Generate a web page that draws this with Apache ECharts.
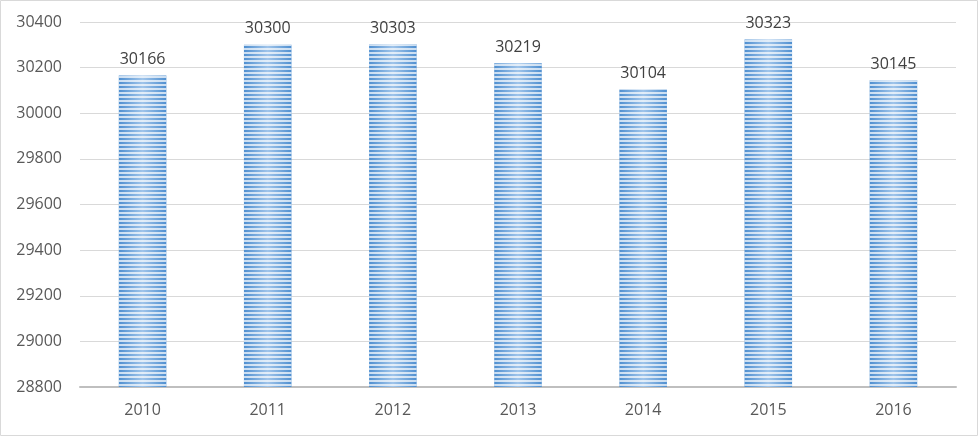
<!DOCTYPE html>
<html><head><meta charset="utf-8">
<script src="https://cdn.jsdelivr.net/npm/echarts@6/dist/echarts.min.js"></script>
<style>html,body{margin:0;padding:0;background:#fff}#c{width:979px;height:437px}</style>
</head><body><div id="c"></div>
<script>
var years = ['2010','2011','2012','2013','2014','2015','2016'];
var values = [30166, 30300, 30303, 30219, 30104, 30323, 30145];
var yMin = 28800, yMax = 30400, yStep = 200;

var chart = echarts.init(document.getElementById('c'));
var font = '"Open Sans", sans-serif';
chart.setOption({
  animation: false,
  graphic: [{type:'rect', shape:{x:0.5,y:0.5,width:977,height:435}, style:{fill:'none', stroke:'#d9d9d9', lineWidth:1}}],
  grid: {left: 80, right: 23, top: 22, bottom: 50},
  xAxis: {
    type: 'category', data: years,
    axisLine: {lineStyle:{color:'#bfbfbf', width:2}},
    axisTick: {show:false},
    axisLabel: {color:'#595959', fontSize:16, fontFamily:font, margin:15}
  },
  yAxis: {
    type: 'value', min: yMin, max: yMax, interval: yStep,
    axisLine: {show:false}, axisTick:{show:false},
    splitLine: {lineStyle:{color:'#d9d9d9', width:1}},
    axisLabel: {color:'#595959', fontSize:16, fontFamily:font, margin:18, formatter: function(v){return String(v);}}
  },
  series: [{
    type: 'bar', data: values, barWidth: '38%',
    itemStyle: {
      color: new echarts.graphic.LinearGradient(0,0,1,0,[
        {offset:0, color:'#4f8fd0'},{offset:0.5, color:'#9fc4ea'},{offset:1, color:'#4f8fd0'}]),
      decal: {symbol:'rect', symbolSize:1, dashArrayX:[1,0], dashArrayY:[1.4,1.9], color:'rgba(255,255,255,0.7)'}
    },
    label: {show:true, position:'top', distance:8, color:'#404040', fontSize:16, fontFamily:font}
  }]
});
</script></body></html>
